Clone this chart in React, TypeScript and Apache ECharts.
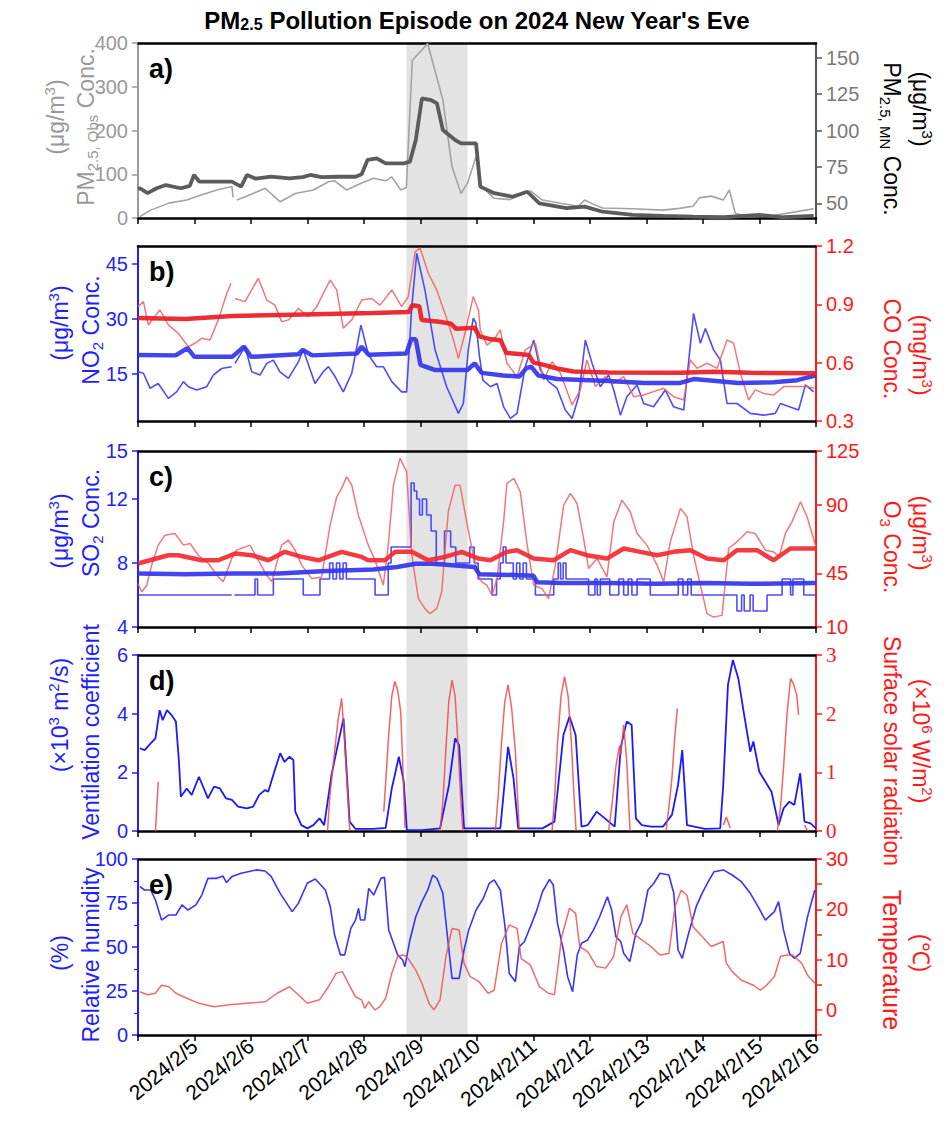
import React, { useEffect, useRef } from 'react';
import * as echarts from 'echarts';

const G = null; // gap in a record

// time axis: hours since 2024/2/4 00:00
const xMin = 0;
const xMax = 288;
const xStep = 24;
const dayLabels = ['', '2024/2/5', '2024/2/6', '2024/2/7', '2024/2/8', '2024/2/9', '2024/2/10', '2024/2/11', '2024/2/12', '2024/2/13', '2024/2/14', '2024/2/15', '2024/2/16'];
const shadeSpan = [114, 140];

// a) PM2.5
const pmObs = [[0.8,3],[5.4,18],[13.1,34],[20.7,41],[27.1,53],[33.5,64],[39.9,72],[40.4,47],G,[42,41],[48.9,56],[54,68],[60.4,37],[66.8,56],[74.5,64],[80.9,83],[83.5,85],[88.6,64],[95,80],[100.1,91],[105.2,85],[107.8,94],[111.6,64],[114,70],[116.5,360],[118.5,372],[120.6,384],[123,399],[126,340],[129.5,270],[131.5,190],[133.4,117],[137.2,56],[140,80],[143.6,140],[145.5,75],[151.3,45],[158,42],[166.7,62],[171.8,41],[180,33],[187.1,27],[189.7,41],[194,30],[197.4,23],[210.2,21],[223,18],[230,22],[235.8,27],[238.4,46],[243.5,50],[248.6,41],[251.2,64],[253.7,11],[258.8,3],[269.1,5],[279.3,14],[287,21]];
const pmMN = [[0,60],[0.8,60.4],[4.1,57],[7.9,60.4],[11.8,62.6],[18.2,60.4],[22,62],[23.8,69.5],[26,65],[29.7,64.9],[39.9,64.9],[43.8,61.5],[46.3,69.5],[50,67],[56.6,68.3],[64.3,67.2],[70,68],[73.2,69.5],[78,68],[84.7,68.3],[92.4,68.3],[95,70],[97.5,79.8],[101.4,80.9],[105.2,77.5],[112.9,77.5],[115.5,78.6],[118,93.5],[120.6,122],[124.4,120.9],[127,118.6],[129.5,100.3],[134.7,93.5],[137.2,91.2],[143.6,91.2],[145.4,61.5],[151.3,57],[159,54.6],[165.4,58],[170.5,50.1],[182,46.7],[189.7,47.8],[197.4,44.3],[210.2,42.1],[223,41.4],[235.8,40.9],[248.6,40.5],[263.9,42.1],[274.2,40.5],[287,41.4]];

// b) NO2 / CO
const no2Obs = [[0,15.5],[2.3,15.1],[5.1,11],[8.6,12.3],[12.9,8.2],[16.4,10],[19.3,12.8],[21.4,11.4],[24.9,10.5],[29.2,11.4],[32,14.6],[35.5,16.4],[39.8,16.9],G,[41.2,17.8],[45.5,22.4],[48.3,15.5],[51.8,14.6],[54.7,17.8],[57.5,18.7],[60.3,15.5],[63.9,13.7],[68.1,18.2],[70.2,21.5],[75.2,12.3],[78.7,15.5],[80.9,16.9],[83.7,14.2],[87.2,10],[90.8,15.1],[94.7,28.3],[97.9,20.1],[101.4,16.9],[104.2,16.9],[107.8,12.8],[112,10],[114.1,10],[116.3,33.4],[118.4,48],[121.9,37.9],[126.2,21.5],[131.1,11.4],[136.1,4.1],[138.2,6.8],[140.3,21.5],[142.4,30.2],[143.5,29],[145,20],[146.5,13.2],[149.7,11.4],[152.5,12.3],[155.3,5.9],[158.2,2.7],[161,4.1],[164.5,16.9],[168.1,24.2],[170.9,16],[174.4,12.8],[178,11],[181.5,5],[184.4,2.7],[187.2,8.7],[190,24.2],[192.9,17.8],[196.4,11.4],[199.9,14.6],[202.1,10.5],[204.9,3.6],[207.7,8.7],[212,11.9],[214.8,6.8],[219,5.9],[224,10.5],[227.5,5.9],[231.8,5],[236,31.5],[238.9,23.3],[241,27.4],[244.5,21.5],[247.4,18.7],[250.2,6.8],[254.5,6.8],[260.1,4.1],[265.8,3.6],[270.7,4.1],[272.9,6.8],[280.6,5],[283.5,11.9],[287,10]];
const no2MN = [[0,20.1],[16,20],[21,22],[24,19.6],[40,19.6],[45,22.4],[48,19.6],[68,20.3],[70,21.5],[74,20],[93,20.5],[95,22.4],[98,20.2],[114,20.5],[116,24.4],[118,24.4],[120,17.4],[126,16],[140,16],[143,17.8],[146,15.2],[155,14.5],[162,14.2],[165,16.5],[167,16.9],[170,14.5],[178,13.5],[200,13],[215,12.4],[230,12.4],[236,13.5],[242,13.2],[255,12.4],[270,12.6],[280,13.2],[288,14.5]];
const coObs = [[0,0.888],[2.3,0.914],[4.4,0.794],[6.5,0.828],[9.3,0.871],[12.9,0.794],[17.1,0.751],[21.4,0.682],[24.2,0.7],[27,0.725],[30.6,0.717],[34.1,0.82],[37.7,0.956],[39.5,1.008],G,[41.2,0.93],[45.5,0.914],[48.3,0.974],[51.1,1.034],[54.7,0.922],[58.2,0.896],[61,0.811],[63.9,0.82],[68.1,0.879],[72.4,0.836],[75.9,0.888],[81.6,1.025],[84.4,0.974],[87.2,0.777],[90.8,0.82],[95,0.922],[99.3,0.93],[102.8,0.896],[107.8,0.974],[112,0.888],[114.8,0.94],[117.7,1.17],[119.8,1.19],[123.3,1.06],[126.9,0.974],[131.1,0.828],[134,0.717],[136.1,0.622],[138.9,0.751],[142.4,0.94],[144.6,0.871],[145.4,0.768],[148.2,0.69],[151.1,0.717],[153.9,0.768],[156.7,0.597],[161,0.528],[164.5,0.665],[168.8,0.7],[172.3,0.511],[175.9,0.605],[179.4,0.545],[184.4,0.382],[187.9,0.46],[190.7,0.614],[194.3,0.477],[198.5,0.528],[202.1,0.494],[206.3,0.528],[210.6,0.425],[214.8,0.434],[219,0.451],[223.3,0.468],[227.5,0.425],[231.8,0.408],[234.6,0.614],[237.5,0.571],[241.7,0.597],[246,0.571],[250.2,0.717],[253,0.7],[255.9,0.545],[259.4,0.408],[262.2,0.46],[265.8,0.442],[270,0.434],[274.3,0.477],[279.2,0.477],[284.2,0.477],[287,0.468]];
const coMN = [[0,0.83],[20,0.825],[40,0.84],[60,0.845],[80,0.85],[100,0.855],[115,0.86],[116.5,0.895],[119.5,0.89],[120.5,0.82],[128,0.81],[133,0.8],[135,0.775],[143,0.78],[145,0.735],[150,0.72],[154,0.715],[156.5,0.65],[166,0.64],[168,0.6],[172,0.59],[178,0.57],[185,0.555],[200,0.55],[230,0.548],[245,0.553],[260,0.548],[288,0.545]];

// c) SO2 / O3
const so2Obs = [[0,6],[39.8,G],[41,6],[49.7,7],[50.8,6],[57.5,7],[70.2,6],[77.3,7],[81.4,8],[82.8,7],[84.3,8],[85.7,7],[87.1,8],[88.5,7],[100.7,6],[106.3,8],[107.5,9],[116,13],[117.3,12.5],[118.4,12],[119.6,11],[120.8,12],[122.6,11],[124.5,10],[126.7,8],[130.2,10],[132.8,9],[135,8],[140.9,9],[142.8,8],[144.5,7],[150.4,6],[152.3,7],[153.9,8],[155.1,9],[156.3,8],[159.4,7],[160.8,8],[162.2,7],[163.6,8],[165,7],[168.8,6],[176.6,7],[178.5,8],[179.5,7],[180.6,8],[181.8,7],[191.4,6],[194.1,7],[195.1,6],[196.4,7],[200.4,6],[204.2,7],[206.3,6],[208.2,7],[209.8,6],[212,7],[217.6,6],[229.5,7],[231.5,6],[233.5,7],[235,6],[254.4,5],[256.4,6],[257.5,5],[260,6],[261.3,5],[267.2,6],[273.6,7],[277.2,6],[278.2,7],[282.8,6],[288,6]];
const so2MN = [[0,7.35],[20,7.3],[40,7.35],[60,7.35],[80,7.5],[100,7.6],[110,7.75],[118,7.95],[125,7.95],[135,7.85],[143,7.75],[145,7.3],[160,7.25],[168,7.2],[169.5,6.8],[180,6.75],[200,6.75],[220,6.7],[240,6.75],[260,6.7],[288,6.75]];
const o3Obs = [[0,38.4],[1.6,32.9],[3.7,37.3],[5.8,50.4],[8.6,63.5],[11.5,70],[15.7,71.1],[19.3,63.5],[22.1,64.6],[25.6,56.9],[29.9,51.5],[34.1,42.7],[36.2,39.5],[39.8,54.7],[41.9,60.2],[47.6,63.5],[51.1,53.6],[54.7,43.8],[56.8,39.5],[61,63.5],[63.9,66.7],[66.7,60.2],[69.5,50.4],[73.8,41.6],[78,42.7],[81.6,76.6],[84.4,95.1],[86.5,100.6],[88.6,108.2],[90.8,102.7],[93.6,83.1],[97.8,63.5],[100.7,53.6],[104.2,37.3],[106.3,63.5],[108.5,102.7],[111.3,120.2],[114.1,111.5],[116.3,56.9],[119.1,28.5],[121.9,22],[124,18.7],[126.9,22],[129,32.9],[131.8,85.3],[134.7,102.7],[136.8,102.7],[139.6,78.7],[142.4,56.9],[144.6,43.8],[146,39.5],[148.2,37.3],[150.4,30.7],[152.5,41.6],[155.3,78.7],[156.7,103.8],[159.6,107.1],[162.4,98.4],[165.2,64.6],[168.1,37.3],[171.6,35.1],[174.4,28.5],[177.3,50.4],[180.8,89.6],[183.7,97.3],[186.5,90.7],[189.3,67.8],[191.4,48.2],[195,54.7],[199.2,42.7],[202.1,78.7],[205.6,92.9],[209.1,85.3],[212,71.1],[216.2,63.5],[220.5,50.4],[223.3,39.5],[226.1,65.6],[230.4,87.5],[233.2,82],[236,56.9],[238.9,37.3],[241.7,18.7],[244.5,16.5],[248.1,17.6],[250.9,61.3],[254.4,65.6],[258.7,72.2],[262.2,71.1],[266.5,60.2],[270,59.1],[272.3,55.8],[275,71.1],[277.8,78.7],[281.4,91.8],[284.2,82],[286.3,71.1],[288,62]];
const o3MN = [[0,51.5],[12.9,56.9],[17.1,56.9],[27,53.6],[34.1,53.6],[41.2,58],[48.3,56.9],[55.4,53.6],[62.4,59.1],[69.5,55.8],[76.6,53.6],[86.5,59.1],[95,55.8],[97.8,53.6],[104.9,53.6],[109.2,59.1],[116.3,59.1],[123.3,53.6],[130.4,55.8],[137.5,59.1],[144.6,54.7],[149.7,53.6],[156.7,59.1],[161,60.2],[168.1,54.7],[176.6,53.6],[183.7,60.2],[190.7,56.9],[199.2,54.7],[206.3,61.3],[213.4,59.1],[220.5,56.9],[227.5,59.1],[234.6,60.2],[241.7,54.7],[248.8,53.6],[254.4,60.2],[262.9,60.2],[270,53.6],[277.1,61.3],[285.6,61.3],[288,61.3]];

// d) ventilation coefficient / solar radiation
const ventCoef = [[0.8,2.82],[2.8,2.76],[5.4,2.99],[7.4,3.16],[9.2,4.12],[10.5,3.78],[12.3,4.12],[14.3,3.95],[16.1,3.73],[17.4,2.36],[18.2,1.17],[20.7,1.45],[22.8,1.23],[25.9,1.85],[29.7,1.11],[32.3,1.51],[34.8,1.45],[37.4,1.11],[39.9,1.06],[42.5,0.83],[46.3,0.77],[48.9,0.83],[51.5,1.23],[54,1.4],[55.3,1.34],[57.9,2.02],[60.4,2.65],[62.2,2.36],[64.3,2.53],[66,2.42],[66.8,0.66],[69.4,0.2],[71.9,0.09],[74.5,0.2],[77.1,0.43],[79.1,0.2],[82.2,1.91],[84.7,2.87],[87.3,3.84],[89.9,0.32],[92.4,0.07],[100.1,0.07],[105.2,0.11],[107.8,1.45],[110.8,2.53],[112.9,1.68],[114.2,0.03],[120.6,0.03],[128.3,0.09],[132.1,1.57],[134.7,3.16],[136.4,2.93],[138.5,0.09],[146.2,0.09],[153.9,0.09],[157.2,2.87],[159.5,1.8],[161.5,0.09],[171.8,0.09],[176.9,0.32],[180.7,3.27],[183.3,3.9],[185.9,3.27],[188.4,0.15],[191,0.2],[194.8,0.66],[197.4,0.49],[202.5,0.15],[205.1,2.87],[207.6,3.73],[209.7,3.61],[211.5,0.43],[214,0.2],[217.9,0.15],[223,0.15],[226.8,0.55],[229.4,1.57],[231.2,2.76],[233.2,0.2],[240.9,0.07],[247.3,0.09],[248.6,1.57],[250.6,4.98],[252.7,5.83],[255,5.2],[257.5,3.95],[260.1,2.7],[261.4,3.05],[263.9,2.02],[266.5,1.68],[269.1,1.34],[272.1,0.2],[274.2,0.77],[276.7,1],[278.8,0.89],[281.3,1.97],[283.1,0.32],[285.7,0.26],[288,0.09]];
const solarRad = [[7.4,0],[8.6,0.84],G,[80.5,0],[81.5,0.6],[83.5,1.35],[85,1.9],[86.5,2.26],[87.5,1.7],[88.5,1],[90,0],G,[104.4,0.33],[106.5,1.64],[107.8,2.3],[109.1,2.55],[110.3,2.4],[111.6,2.03],[112.5,1.1],[113.4,0.05],G,[128.3,0],[129.5,0.5],[130.8,1.4],[132,2.2],[133.4,2.57],[134.7,2.3],[135.9,1.5],[137,0.6],[138,0],G,[151.8,0],[153,0.6],[154.4,1.5],[155.8,2.2],[157.2,2.49],[158.7,2.1],[160.3,1.35],[161.2,0.6],[162,0],G,[175.9,0],[177,0.6],[178.2,1.5],[179.7,2.3],[181.2,2.63],[182.7,2.3],[184.1,1.5],[185.2,0.6],[186.1,0],G,[199.9,0],[201.5,0.5],[203,1.1],[204.5,1.45],[205.1,1.3],[206.3,1.81],[207.6,1.2],[208.4,0.5],[209,0],G,[224.3,0],[225.5,0.4],[226.8,0.9],[228,1.6],[229.1,2.09],G,[248.6,0.1],[249.9,0.24],[251.6,0.05],G,[271.6,0],[272.9,0.4],[274.2,1.07],[275.7,2],[277.2,2.6],[278.5,2.5],[279.8,2.32],[280.6,1.98],G,[283.1,0.1],[284.5,0]];

// e) relative humidity / temperature
const relHum = [[0.8,84.3],[2.8,82.4],[5.4,82.4],[7.4,76.7],[10,65.3],[13.1,68.2],[16.1,68.2],[18.7,73.9],[21.2,71],[24.6,73.9],[27.1,79.5],[29.7,89],[33.5,89],[36.1,90.3],[37.6,86.6],[39.9,90],[43.8,91.9],[50.2,93.8],[54,93.2],[56.6,90],[60.4,80.5],[65.5,70.1],[68.1,74.8],[71.9,86.2],[75.3,88.6],[79.6,82.4],[81.7,72.9],[83.5,56.8],[86,45.5],[87.8,45.5],[90.4,60.6],[92.4,65.3],[93.7,72],[94.5,65.3],[96.3,65.3],[98,83.3],[100.1,79.5],[103.2,89],[104.7,89.6],[106.5,59.7],[108.3,53],[110.3,45.5],[112.4,42.6],[113.4,38.8],[115.5,54],[118,67.2],[120.6,75.8],[123.1,82.4],[125.2,90.9],[127,89],[129.5,80.5],[131.3,57.8],[133.4,32.2],[136.4,32.2],[138.5,48.3],[140.5,59.7],[143.6,71],[146.7,77.7],[149.2,86.2],[151.3,88.1],[153.9,82.4],[155.9,61.6],[157.7,35],[160.3,30.3],[162,50.2],[164.1,53],[166.7,61.6],[169.2,70.1],[171.8,81.4],[174.8,88.4],[176.4,85.2],[178.2,63.4],[180.7,48.3],[182.5,33.1],[184.6,24.6],[186.6,45.5],[188.4,52.1],[191,54],[193.5,59.7],[196.1,67.2],[199.4,78.6],[201.2,71],[203,55.9],[205.1,53],[206.3,46.4],[208.9,41.7],[211.5,57.8],[214,64.4],[216.6,82.4],[219.1,86.2],[221.7,91.9],[225.5,90.9],[227.6,80.5],[229.4,48.3],[231.2,43.6],[233.7,56.8],[237.1,72.9],[239.6,80.5],[242.2,87.1],[244.7,92.8],[248.6,93.8],[252.4,90.9],[256.3,87.1],[260.1,80.5],[263.4,72.9],[266.5,65.3],[270.3,70.1],[272.1,75.8],[274.2,59.7],[276.7,46.4],[278.8,43.6],[281.3,46.4],[284.4,67.2],[287.5,82.4]];
const temperature = [[0.8,3.6],[4.1,3],[7.4,3.3],[10,4.9],[13.1,4.6],[16.1,3.3],[20.7,2.3],[25.9,1.3],[32.3,0.6],[38.7,1],[46.3,1.3],[54,1.6],[59.1,3.3],[64.3,4.6],[68.1,3],[71.9,1.3],[77.1,2],[80.9,4.6],[84.2,7.3],[86.8,7.6],[89.3,5.3],[92.4,2.6],[95,2],[96.3,0.3],[98,1.6],[100.6,0],[102.7,0.6],[105.2,2.3],[107.8,7.3],[110.3,10.6],[112.4,10.9],[114.2,10.6],[118,7.9],[120.6,5.3],[123.6,1.3],[125.7,0],[128.3,2],[130.8,10.6],[133.4,16.2],[136.4,15.9],[138.5,9.3],[141.1,6.6],[144.9,5.6],[148.7,3.3],[151.3,3.9],[154.4,13.2],[157.7,16.9],[161,16.2],[162.8,10.2],[166.7,8.9],[170.5,4.6],[174.3,3.3],[176.9,3],[180,14.6],[183.3,20.2],[185.9,19.2],[187.6,12.6],[191,11.6],[194.8,8.6],[198.7,8.3],[202,10.6],[205.1,18.5],[207.6,20.9],[210.2,15.2],[214,13.9],[217.9,12.6],[221.7,10.9],[225.5,11.2],[228.1,20.5],[230.7,23.8],[233.2,22.8],[235.8,16.5],[239.6,14.6],[243.5,12.6],[248.6,13.6],[249.9,9.3],[252.4,7.6],[256.3,5.9],[261.4,4.9],[264.4,3.9],[267,4.9],[270.3,6.6],[272.9,10.6],[275.5,10.9],[278,10.9],[281.9,9.3],[284.4,6.9],[287.5,5.3]];

// tick labels
const pmObsTicks = [0, 100, 200, 300, 400];
const pmMNTicks = [50, 75, 100, 125, 150];
const no2Ticks = [15, 30, 45];
const coTicks = [0.3, 0.6, 0.9, 1.2];
const so2Ticks = [4, 8, 12, 15];
const o3Ticks = [10, 45, 90, 125];
const tempTicks = [0, 10, 20, 30];
const tempMinorTicks = [-5, 0, 5, 10, 15, 20, 25, 30];

const FONT = "'Liberation Sans', Arial, Helvetica, sans-serif";
const NARROW = "'Liberation Sans Narrow', 'Liberation Sans', Arial, sans-serif";
const SERIF = "'Liberation Serif', 'Times New Roman', serif";
const BLUE = '#1f1fff';
const RED = '#ff1a1a';
const TITLE_SIZE = 23;
const TICK_SIZE = 20;

const GRID_LEFT = 130;
const GRID_W = 678;
const GRIDS = [
  { top: 35, height: 175 },
  { top: 238, height: 175 },
  { top: 443, height: 176 },
  { top: 647, height: 176 },
  { top: 851, height: 176 },
];

function prep(d: any[]) {
  return d.map((p) => (p === null ? '-' : p[1] === null ? [p[0], '-'] : p));
}

function yAx(gridIndex: number, position: string, o: any) {
  return {
    type: 'value', gridIndex, position, min: o.min, max: o.max, interval: o.interval,
    splitLine: { show: false },
    axisLine: { show: true, onZero: false, lineStyle: { color: o.line, width: 2 } },
    axisTick: { show: true, inside: false, length: 6, lineStyle: { color: o.line, width: 1.5 }, customValues: o.ticks },
    minorTick: o.minor ? { show: true, splitNumber: 2, length: 4, lineStyle: { color: o.line, width: 1.2 } } : { show: false },
    axisLabel: { color: o.label, fontSize: o.size || TICK_SIZE, fontFamily: o.font || FONT, margin: 10, customValues: o.labels, formatter: o.fmt },
  };
}

function line(name: string, xi: number, yi: number, data: any[], color: string, width: number, extra: any = {}) {
  return {
    name, type: 'line', xAxisIndex: xi, yAxisIndex: yi, data: prep(data), symbol: 'none', showSymbol: false,
    lineStyle: { color, width, opacity: extra.opacity ?? 1 }, itemStyle: { color }, step: extra.step, z: extra.z ?? 2,
    silent: true,
  };
}

function rtext(x: number, y: number, text: string, color: string, rot: number, size = TITLE_SIZE) {
  const small = Math.round(size * 0.66);
  return {
    type: 'text', x, y, rotation: rot, silent: true, z: 50,
    style: {
      text, fill: color, fontFamily: FONT, fontSize: size,
      align: 'center', verticalAlign: 'middle', textAlign: 'center', textVerticalAlign: 'middle',
      rich: {
        n: { fontSize: size, fontFamily: FONT, fill: color, lineHeight: 28 },
        sub: { fontSize: small, fontFamily: FONT, fill: color, verticalAlign: 'bottom', lineHeight: 14 },
        sup: { fontSize: small, fontFamily: FONT, fill: color, verticalAlign: 'top', lineHeight: 14 },
      },
    },
  };
}

function buildOption() {
  const xAxes: any[] = [];
  GRIDS.forEach((_, i) => {
    xAxes.push({
      type: 'value', gridIndex: i, min: xMin, max: xMax, interval: xStep, position: 'bottom',
      splitLine: { show: false },
      axisLine: { show: true, onZero: false, lineStyle: { color: '#000', width: 2.5 } },
      axisTick: { show: true, length: 6, lineStyle: { color: '#000', width: 1.5 } },
      axisLabel: i === 4
        ? { show: true, rotate: 40, fontSize: 21, fontFamily: FONT, color: '#000', margin: 8, formatter: (v: number) => dayLabels[Math.round(v / xStep)] || '' }
        : { show: false },
    });
  });
  GRIDS.forEach((_, i) => {
    xAxes.push({
      type: 'value', gridIndex: i, min: xMin, max: xMax, position: 'top',
      splitLine: { show: false },
      axisLine: { show: true, onZero: false, lineStyle: { color: '#000', width: 2.5 } },
      axisTick: { show: false }, axisLabel: { show: false },
    });
  });

  const yAxes = [
    yAx(0, 'left', { min: 0, max: 400, interval: 100, line: '#9a9a9a', label: '#9a9a9a', labels: pmObsTicks, ticks: pmObsTicks }),
    yAx(0, 'right', { min: 40, max: 160, line: '#555', label: '#7a7a7a', labels: pmMNTicks, ticks: pmMNTicks }),
    yAx(1, 'left', { min: 2, max: 50, line: BLUE, label: BLUE, labels: no2Ticks, ticks: no2Ticks }),
    yAx(1, 'right', { min: 0.3, max: 1.2, line: RED, label: RED, labels: coTicks, ticks: coTicks, fmt: (v: number) => v.toFixed(1) }),
    yAx(2, 'left', { min: 4, max: 15, line: BLUE, label: BLUE, labels: so2Ticks, ticks: so2Ticks }),
    yAx(2, 'right', { min: 10, max: 125, line: RED, label: RED, labels: o3Ticks, ticks: o3Ticks }),
    yAx(3, 'left', { min: 0, max: 6, interval: 2, line: BLUE, label: BLUE }),
    yAx(3, 'right', { min: 0, max: 3, interval: 1, line: RED, label: RED, font: SERIF, size: 21 }),
    yAx(4, 'left', { min: 0, max: 100, interval: 25, line: BLUE, label: BLUE, minor: true }),
    yAx(4, 'right', { min: -5, max: 30, line: RED, label: RED, labels: tempTicks, ticks: tempMinorTicks }),
  ];

  const series = [
    line('PM2.5 Obs', 0, 0, pmObs, '#a3a3a3', 1.6),
    line('PM2.5 MN', 0, 1, pmMN, '#5c5c5c', 3.8, { z: 3 }),
    line('NO2 Obs', 1, 2, no2Obs, '#3838ff', 1.6, { opacity: 0.9 }),
    line('CO Obs', 1, 3, coObs, '#f06060', 1.5, { opacity: 0.85 }),
    line('NO2 MN', 1, 2, no2MN, '#3434ee', 4.5, { opacity: 0.92, z: 3 }),
    line('CO MN', 1, 3, coMN, '#e81c24', 4.5, { opacity: 0.92, z: 3 }),
    line('SO2 Obs', 2, 4, so2Obs, '#3838ff', 1.6, { step: 'end', opacity: 0.9 }),
    line('O3 Obs', 2, 5, o3Obs, '#f06060', 1.5, { opacity: 0.85 }),
    line('SO2 MN', 2, 4, so2MN, '#3434ee', 4.5, { opacity: 0.92, z: 3 }),
    line('O3 MN', 2, 5, o3MN, '#f2262e', 4.5, { opacity: 0.9, z: 3 }),
    line('Ventilation coefficient', 3, 6, ventCoef, '#1a1aff', 1.8),
    line('Surface solar radiation', 3, 7, solarRad, '#f04848', 1.5, { opacity: 0.85 }),
    line('Relative humidity', 4, 8, relHum, '#2a2aff', 1.6, { opacity: 0.95 }),
    line('Temperature', 4, 9, temperature, '#f05050', 1.5, { opacity: 0.85 }),
  ];

  return {
    animation: false,
    backgroundColor: '#ffffff',
    grid: GRIDS.map((g) => ({ left: GRID_LEFT, width: GRID_W, top: g.top, height: g.height, containLabel: false })),
    xAxis: xAxes,
    yAxis: yAxes,
    series,
  };
}

function buildGraphics(shade: { x1: number; x2: number; y1: number; y2: number }) {
  const P = Math.PI / 2;
  const gray = '#9a9a9a';
  const els: any[] = [
    {
      type: 'rect', silent: true, z: -10,
      shape: { x: shade.x1, y: shade.y1, width: shade.x2 - shade.x1, height: shade.y2 - shade.y1 },
      style: { fill: '#e3e3e3' },
    },
    {
      type: 'text', x: 469, y: 12, silent: true, z: 50,
      style: {
        text: '{b|PM}{s|2.5}{b| Pollution Episode on 2024 New Year\'s Eve}',
        align: 'center', verticalAlign: 'middle', textAlign: 'center', textVerticalAlign: 'middle',
        fill: '#000', fontFamily: NARROW, fontSize: 24, fontWeight: 'bold',
        rich: {
          b: { fontFamily: NARROW, fontSize: 24, fontWeight: 'bold', fill: '#000', lineHeight: 24 },
          s: { fontFamily: NARROW, fontSize: 16, fontWeight: 'bold', fill: '#000', verticalAlign: 'bottom', lineHeight: 12 },
        },
      },
    },
    // a
    rtext(48, 109, '{n|(μg/m}{sup|3}{n|)}', gray, P),
    rtext(78, 119, '{n|PM}{sub|2.5, Obs}{n| Conc.}', gray, P),
    rtext(884, 131, '{n|PM}{sub|2.5, MN}{n| Conc.}', '#000', -P),
    rtext(913, 101, '{n|(μg/m}{sup|3}{n|)}', '#000', -P),
    // b
    rtext(52, 315, '{n|(μg/m}{sup|3}{n|)}', BLUE, P),
    rtext(83, 322, '{n|NO}{sub|2}{n| Conc.}', BLUE, P),
    rtext(884, 341, '{n|CO Conc.}', RED, -P),
    rtext(913, 347, '{n|(mg/m}{sup|3}{n|)}', RED, -P),
    // c
    rtext(52, 523, '{n|(μg/m}{sup|3}{n|)}', BLUE, P),
    rtext(83, 515, '{n|SO}{sub|2}{n| Conc.}', BLUE, P),
    rtext(884, 539, '{n|O}{sub|3}{n| Conc.}', RED, -P),
    rtext(913, 525, '{n|(μg/m}{sup|3}{n|)}', RED, -P),
    // d
    rtext(52, 707, '{n|(×10}{sup|3}{n| m}{sup|2}{n|/s)}', BLUE, P),
    rtext(83, 724, '{n|Ventilation coefficient}', BLUE, P),
    rtext(884, 743, '{n|Surface solar radiation}', RED, -P),
    rtext(913, 733, '{n|(×10}{sup|6}{n| W/m}{sup|2}{n|)}', RED, -P),
    // e
    rtext(52, 945, '{n|(%)}', BLUE, P),
    rtext(83, 947, '{n|Relative humidity}', BLUE, P),
    rtext(884, 952, '{n|Temperature}', RED, -P, 25),
    rtext(913, 945, '{n|(℃)}', RED, -P),
  ];
  ['a)', 'b)', 'c)', 'd)', 'e)'].forEach((t, i) => {
    els.push({
      type: 'text', x: GRID_LEFT + 11, y: GRIDS[i].top + 26, silent: true, z: 50,
      style: { text: t, fill: '#000', fontFamily: NARROW, fontSize: 27, fontWeight: 'bold', align: 'left', verticalAlign: 'middle', textAlign: 'left', textVerticalAlign: 'middle' },
    });
  });
  return els;
}

export default function App() {
  const ref = useRef<HTMLDivElement>(null);
  useEffect(() => {
    if (!ref.current) return;
    const chart = echarts.init(ref.current, null, { renderer: 'svg' });
    chart.setOption(buildOption() as any);
    const x1 = chart.convertToPixel({ xAxisIndex: 0 } as any, shadeSpan[0]) as unknown as number;
    const x2 = chart.convertToPixel({ xAxisIndex: 0 } as any, shadeSpan[1]) as unknown as number;
    const y1 = chart.convertToPixel({ yAxisIndex: 0 } as any, 400) as unknown as number;
    const y2 = chart.convertToPixel({ yAxisIndex: 8 } as any, 0) as unknown as number;
    chart.setOption({ graphic: buildGraphics({ x1, x2, y1, y2 }) } as any);
    return () => chart.dispose();
  }, []);
  return <div ref={ref} style={{ width: 928, height: 1108 }} />;
}
